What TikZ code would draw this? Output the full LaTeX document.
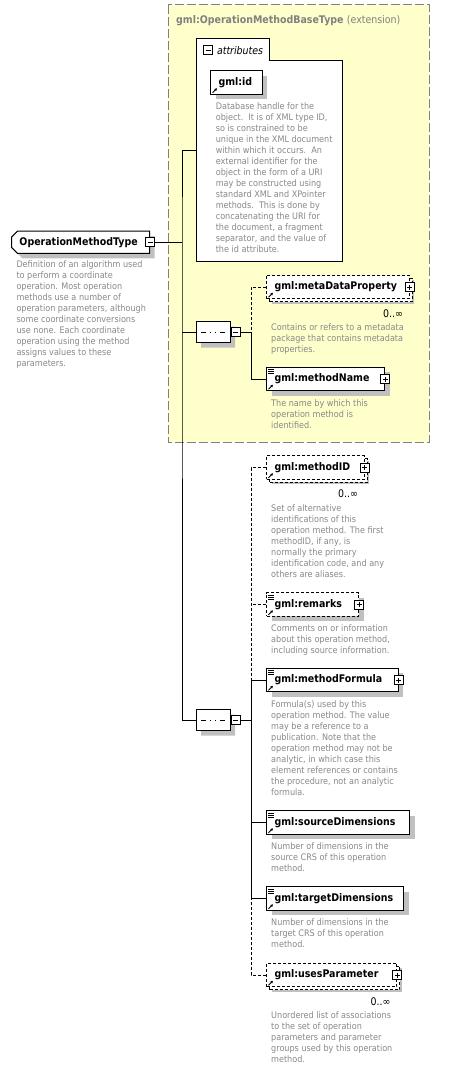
\documentclass[tikz,border=0pt]{standalone}
\usepackage{fontspec}
\newfontfamily\xsdfont[FakeStretch=0.9]{DejaVu Sans}
\usetikzlibrary{shapes.misc, shadows, arrows.meta, positioning}
\definecolor{extfill}{RGB}{255,255,204}
\definecolor{extline}{RGB}{128,128,128}
\definecolor{descgray}{RGB}{136,136,136}
\definecolor{shadowgray}{RGB}{192,192,192}

\begin{document}
\begin{tikzpicture}[x=1pt, y=-1pt, line width=1pt,
  namefont/.style={font=\xsdfont\fontsize{10.5}{12}\selectfont\bfseries},
  desc/.style={font=\xsdfont\fontsize{9}{11}\selectfont, text=descgray, align=left, inner sep=0pt},
  occ/.style={font=\xsdfont\fontsize{10.5}{12}\selectfont, inner sep=0pt},
  boxshadow/.style={general shadow={fill=shadowgray, shadow xshift=5pt, shadow yshift=-5pt}},
  elem/.style={draw, fill=white, boxshadow, namefont, text width=#1, align=left,
    inner xsep=8pt, inner ysep=0pt, minimum height=23.5pt, anchor=west},
  optline/.style={dash pattern=on 3pt off 2pt},
  multi/.style={general shadow={draw, fill=white, optline, shadow xshift=3pt, shadow yshift=-3pt}},
  refarrow/.style={path picture={
    \draw[solid, line width=0.8pt, -{Triangle[length=2.5pt, width=2.5pt]}]
      ([shift={(2pt,1.5pt)}]path picture bounding box.south west) -- ++(4.5pt,4.5pt);}},
  reftext/.style={path picture={
    \draw[solid, line width=0.8pt, -{Triangle[length=2.5pt, width=2.5pt]}]
      ([shift={(2pt,1.5pt)}]path picture bounding box.south west) -- ++(4.5pt,4.5pt);
    \foreach \dy in {2.5,4.5,6.5}
      \draw[solid, line width=0.8pt] ([shift={(1.5pt,-\dy pt)}]path picture bounding box.north west) -- ++(5.5pt,0pt);}},
  togglebox/.style={draw, fill=white, solid, minimum size=9pt, inner sep=0pt},
  minusbox/.style={togglebox, path picture={
    \draw[line width=0.8pt] ([xshift=-2.5pt]path picture bounding box.center) -- ([xshift=2.5pt]path picture bounding box.center);}},
  plusbox/.style={togglebox, path picture={
    \draw[line width=0.8pt] ([xshift=-2.5pt]path picture bounding box.center) -- ([xshift=2.5pt]path picture bounding box.center)
      ([yshift=-2.5pt]path picture bounding box.center) -- ([yshift=2.5pt]path picture bounding box.center);}},
  seqbox/.style={chamfered rectangle, chamfered rectangle xsep=5pt, chamfered rectangle ysep=5pt,
    draw, fill=white, boxshadow, minimum width=34pt, minimum height=21pt, inner sep=0pt, path picture={
    \draw[line width=1pt] ([xshift=-12pt]path picture bounding box.center) -- ([xshift=12pt]path picture bounding box.center);
    \foreach \dx in {-5,0,5}
      \fill ([xshift=\dx pt]path picture bounding box.center) +(-1.6pt,-1.6pt) rectangle +(1.6pt,1.6pt);}},
  omtbox/.style={chamfered rectangle, chamfered rectangle corners={north west, south west},
    chamfered rectangle xsep=3pt, chamfered rectangle ysep=3pt, draw, fill=white, boxshadow, namefont,
    text width=122pt, align=left, inner xsep=5pt, inner ysep=0pt, minimum height=22.3pt, anchor=west}
]
\useasboundingbox (0,0) rectangle (455,1070);

% base type extension
\draw[extline, dash pattern=on 9pt off 3pt, fill=extfill] (168,5) rectangle (429,442);
\node[namefont, text=extline, anchor=west, inner sep=0pt] (exttitle) at (175.7,20.3)
  {gml:OperationMethodBaseType {\mdseries (extension)}};

% attributes
\draw[fill=white] (196,38.3) -- (269.3,38.3) -- (269.3,61) -- (342.7,61) -- (342.7,261) -- (196,261) -- cycle;
\node[minusbox] (attrtog) at (208,50.5) {};
\node[font=\xsdfont\fontsize{10.5}{12}\selectfont\itshape, inner sep=0pt, right=3.5pt of attrtog] (attrtitle) {attributes};
\node[elem=35.7pt, refarrow] (gmlid) at (210,82.5) {gml:id};
\node[desc, below right=7.8pt and 5.3pt of gmlid.south west] (gmliddesc) {Database handle for the\\object.\ \ It is of XML type ID,\\so is constrained to be\\unique in the XML document\\within which it occurs.\ \ An\\external identifier for the\\object in the form of a URI\\may be constructed using\\standard XML and XPointer\\methods.\ \ This is done by\\concatenating the URI for\\the document, a fragment\\separator, and the value of\\the id attribute.};

% complex type
\node[omtbox] (omt) at (11,242.2) {OperationMethodType};
\node[minusbox] (omttog) at (omt.east) {};
\node[desc, anchor=north west] (omtdesc) at (16,259.8) {Definition of an algorithm used\\to perform a coordinate\\operation. Most operation\\methods use a number of\\operation parameters, although\\some coordinate conversions\\use none. Each coordinate\\operation using the method\\assigns values to these\\parameters.};

% sequences
\node[seqbox] (seqA) at (213,332) {};
\node[minusbox, right=0pt of seqA] (seqAtog) {};
\node[seqbox] (seqB) at (213,720) {};
\node[minusbox, right=0pt of seqB] (seqBtog) {};

% first sequence
\node[elem=126.7pt, optline, multi, refarrow] (mdp) at (266,287) {gml:metaDataProperty};
\node[plusbox] (mdptog) at (mdp.east) {};
\node[occ, below left=9.5pt and 6.3pt of mdp.south east] (mdpocc) {0..∞};
\node[desc, below right=24pt and 4.7pt of mdp.south west] (mdpdesc) {Contains or refers to a metadata\\package that contains metadata\\properties.};

\node[elem=102pt, reftext] (mname) at (266,379) {gml:methodName};
\node[plusbox] (mnametog) at (mname.east) {};
\node[desc, below right=7.5pt and 4.7pt of mname.south west] (mnamedesc) {The name by which this\\operation method is\\identified.};

% second sequence
\node[elem=81.7pt, optline, multi, refarrow] (mid) at (266,467.5) {gml:methodID};
\node[plusbox] (midtog) at (mid.east) {};
\node[occ, below left=9.5pt and 6.3pt of mid.south east] (midocc) {0..∞};
\node[desc, below right=24pt and 4.7pt of mid.south west] (middesc) {Set of alternative\\identifications of this\\operation method. The first\\methodID, if any, is\\normally the primary\\identification code, and any\\others are aliases.};

\node[elem=76pt, optline, reftext] (remarks) at (266,604.5) {gml:remarks};
\node[plusbox] (remarkstog) at (remarks.east) {};
\node[desc, below right=7.5pt and 4.7pt of remarks.south west] (remarksdesc) {Comments on or information\\about this operation method,\\including source information.};

\node[elem=115.7pt, reftext] (mformula) at (266,680) {gml:methodFormula};
\node[plusbox] (mformulatog) at (mformula.east) {};
\node[desc, below right=7.5pt and 4.7pt of mformula.south west] (mformuladesc) {Formula(s) used by this\\operation method. The value\\may be a reference to a\\publication. Note that the\\operation method may not be\\analytic, in which case this\\element references or contains\\the procedure, not an analytic\\formula.};

\node[elem=127.3pt, reftext] (srcdim) at (266,822.5) {gml:sourceDimensions};
\node[desc, below right=7.5pt and 4.7pt of srcdim.south west] (srcdimdesc) {Number of dimensions in the\\source CRS of this operation\\method.};

\node[elem=121.3pt, reftext] (tgtdim) at (266,898.5) {gml:targetDimensions};
\node[desc, below right=7.5pt and 4.7pt of tgtdim.south west] (tgtdimdesc) {Number of dimensions in the\\target CRS of this operation\\method.};

\node[elem=114.3pt, optline, multi, refarrow] (usesp) at (266,975) {gml:usesParameter};
\node[plusbox] (usesptog) at (usesp.east) {};
\node[occ, below left=9.5pt and 6.3pt of usesp.south east] (usespocc) {0..∞};
\node[desc, below right=24pt and 4.7pt of usesp.south west] (usespdesc) {Unordered list of associations\\to the set of operation\\parameters and parameter\\groups used by this operation\\method.};

% connectors
\coordinate (busA) at (182,242.2);
\coordinate (attrin) at (196,150);
\coordinate (busB) at (251,332);
\coordinate (busC) at (251,720);
\draw (omttog.east) -- (busA);
\draw (seqB.west) -| (busA) |- (attrin);
\draw (seqA.west) -- (seqA.west -| busA);
\draw (seqAtog.east) -- (busB);
\draw[optline] (mdp.west) -| (busB);
\draw (mname.west) -| (busB);
\draw (seqBtog.east) -- (busC);
\draw[optline] (mid.west) -| (mformula.west -| busC);
\draw[optline] (remarks.west) -- (remarks.west -| busC);
\draw (mformula.west) -| (tgtdim.west -| busC) -- (tgtdim.west);
\draw (srcdim.west) -- (srcdim.west -| busC);
\draw[optline] (usesp.west) -| (tgtdim.west -| busC);
\end{tikzpicture}
\end{document}
